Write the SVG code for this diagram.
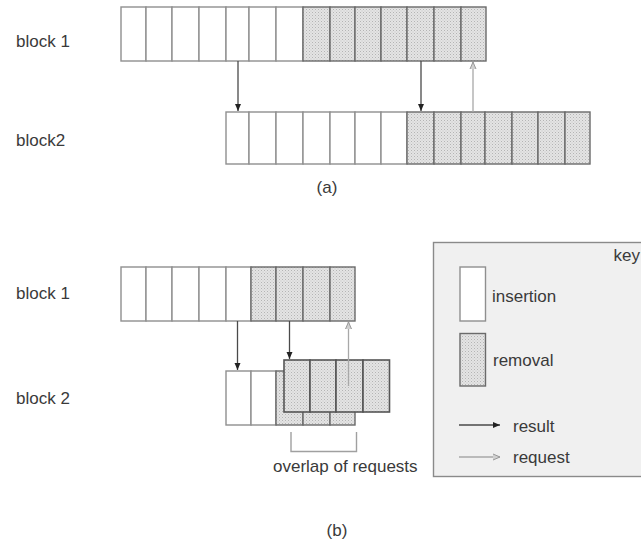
<svg xmlns="http://www.w3.org/2000/svg" width="641" height="544" viewBox="0 0 641 544">
<style>
text{font-family:"Liberation Sans",Arial,sans-serif;font-size:17px;fill:#3a3a3a}
.w{fill:#ffffff;stroke:#8f8f8f;stroke-width:1.4}
.s{fill:url(#dots);stroke:#6a6a6a;stroke-width:1.4}
.f{fill:url(#dots);stroke:#555;stroke-width:1.6}
.res{stroke:#4a4a4a;stroke-width:1.3;fill:none;marker-end:url(#ah)}
.req{stroke:#a8a8a8;stroke-width:1.3;fill:none;marker-end:url(#ahr)}
</style>
<defs>
<pattern id="dots" width="3" height="3" patternUnits="userSpaceOnUse">
<rect width="3" height="3" fill="#e4e4e4"/>
<rect width="1" height="1" fill="#b4b4b4"/>
<rect x="1.5" y="1.5" width="1" height="1" fill="#c6c6c6"/>
</pattern>
<marker id="ah" markerWidth="8" markerHeight="8" refX="7" refY="4" orient="auto" markerUnits="userSpaceOnUse">
<path d="M0,1 L7,4 L0,7 Z" fill="#222"/>
</marker>
<marker id="ahr" markerWidth="8" markerHeight="8" refX="7" refY="4" orient="auto" markerUnits="userSpaceOnUse">
<path d="M0,1 L7,4 L0,7" fill="#d0d0d0" stroke="#999" stroke-width="1"/>
</marker>
</defs>
<rect width="641" height="544" fill="#ffffff"/>

<!-- (a) -->
<g id="a-block1">
<rect class="w" x="121" y="7" width="25" height="54"/>
<rect class="w" x="146" y="7" width="26" height="54"/>
<rect class="w" x="172" y="7" width="27" height="54"/>
<rect class="w" x="199" y="7" width="27" height="54"/>
<rect class="w" x="226" y="7" width="23" height="54"/>
<rect class="w" x="249" y="7" width="27" height="54"/>
<rect class="w" x="276" y="7" width="27" height="54"/>
<rect class="s" x="303" y="7" width="27" height="54"/>
<rect class="s" x="330" y="7" width="25" height="54"/>
<rect class="s" x="355" y="7" width="26" height="54"/>
<rect class="s" x="381" y="7" width="26" height="54"/>
<rect class="s" x="407" y="7" width="27" height="54"/>
<rect class="s" x="434" y="7" width="27" height="54"/>
<rect class="s" x="461" y="7" width="25" height="54"/>
</g>
<g id="a-block2">
<rect class="w" x="226" y="112" width="23" height="52"/>
<rect class="w" x="249" y="112" width="27" height="52"/>
<rect class="w" x="276" y="112" width="27" height="52"/>
<rect class="w" x="303" y="112" width="27" height="52"/>
<rect class="w" x="330" y="112" width="25" height="52"/>
<rect class="w" x="355" y="112" width="26" height="52"/>
<rect class="w" x="381" y="112" width="26" height="52"/>
<rect class="s" x="407" y="112" width="27" height="52"/>
<rect class="s" x="434" y="112" width="27" height="52"/>
<rect class="s" x="461" y="112" width="24" height="52"/>
<rect class="s" x="485" y="112" width="27" height="52"/>
<rect class="s" x="512" y="112" width="26" height="52"/>
<rect class="s" x="538" y="112" width="27" height="52"/>
<rect class="s" x="565" y="112" width="25" height="52"/>
</g>

<!-- (b) -->
<g id="b-block1">
<rect class="w" x="121" y="267" width="25" height="54"/>
<rect class="w" x="146" y="267" width="26" height="54"/>
<rect class="w" x="172" y="267" width="27" height="54"/>
<rect class="w" x="199" y="267" width="27" height="54"/>
<rect class="w" x="226" y="267" width="25" height="54"/>
<rect class="s" x="251" y="267" width="25" height="54"/>
<rect class="s" x="276" y="267" width="27" height="54"/>
<rect class="s" x="303" y="267" width="27" height="54"/>
<rect class="s" x="330" y="267" width="25" height="54"/>
</g>
<g id="b-block2">
<rect class="w" x="226" y="371" width="25" height="54"/>
<rect class="w" x="251" y="371" width="25" height="54"/>
<rect class="s" x="276" y="371" width="27" height="54"/>
<rect class="s" x="303" y="371" width="27" height="54"/>
<rect class="s" x="330" y="371" width="25" height="54"/>
</g>
<g id="b-block2-request">
<rect class="f" x="284" y="360" width="26" height="52"/>
<rect class="f" x="310" y="360" width="26" height="52"/>
<rect class="f" x="336" y="360" width="27" height="52"/>
<rect class="f" x="363" y="360" width="26.5" height="52"/>
</g>

<g id="connectors">
<line class="res" x1="238" y1="61" x2="238" y2="111"/>
<line class="res" x1="421" y1="61" x2="421" y2="111"/>
<line class="req" x1="473" y1="112" x2="473" y2="62"/>
<line class="res" x1="237.5" y1="321" x2="237.5" y2="370"/>
<line class="res" x1="289.5" y1="321" x2="289.5" y2="359"/>
<line class="req" x1="348.5" y1="386" x2="348.5" y2="322"/>
<polyline points="291,432 291,451.5 356.5,451.5 356.5,432" fill="none" stroke="#a0a0a0" stroke-width="1.4"/>
</g>

<g id="labels">
<text x="16" y="47">block 1</text>
<text x="16" y="146">block2</text>
<text x="327" y="193" text-anchor="middle">(a)</text>
<text x="16" y="299">block 1</text>
<text x="16" y="404">block 2</text>
<text x="273" y="472">overlap of requests</text>
<text x="337" y="536" text-anchor="middle">(b)</text>
</g>

<g id="key">
<rect x="433.5" y="242.5" width="212" height="234" fill="#f0f0f0" stroke="#8a8a8a" stroke-width="1.4"/>
<text x="640" y="261" text-anchor="end">key</text>
<rect class="w" x="460" y="267" width="25.5" height="54"/>
<text x="492" y="302">insertion</text>
<rect class="s" x="460" y="333.5" width="25.5" height="52.5"/>
<text x="493" y="366">removal</text>
<line class="res" x1="459" y1="425" x2="500" y2="425"/>
<text x="513" y="432">result</text>
<line class="req" x1="459" y1="457" x2="500" y2="457"/>
<text x="513" y="463">request</text>
</g>
</svg>
